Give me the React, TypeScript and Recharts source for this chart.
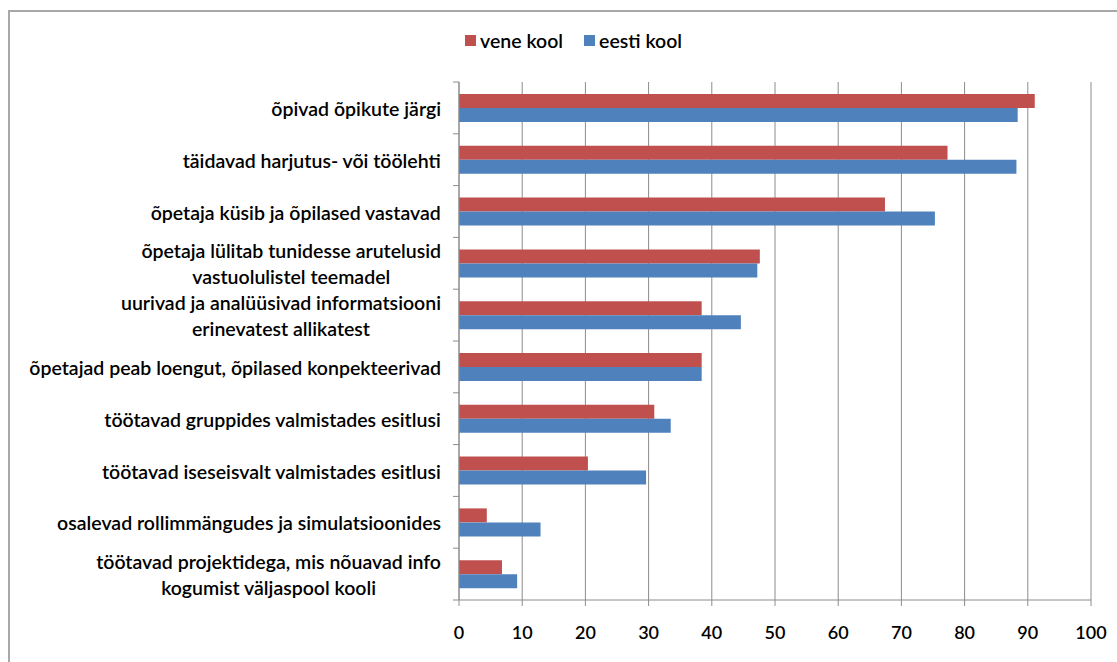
import React from "react"
import { BarChart, Bar, XAxis, YAxis, CartesianGrid } from "recharts"

const categories = [
  ["õpivad õpikute järgi"],
  ["täidavad harjutus- või töölehti"],
  ["õpetaja küsib ja õpilased vastavad"],
  ["õpetaja lülitab tunidesse arutelusid", "vastuolulistel teemadel"],
  ["uurivad ja analüüsivad informatsiooni", "erinevatest allikatest"],
  ["õpetajad peab loengut, õpilased konpekteerivad"],
  ["töötavad gruppides valmistades esitlusi"],
  ["töötavad iseseisvalt valmistades esitlusi"],
  ["osalevad rollimmängudes ja simulatsioonides"],
  ["töötavad projektidega, mis nõuavad info", "kogumist väljaspool kooli"],
]
const veneKool = [91.1, 77.3, 67.4, 47.6, 38.4, 38.4, 30.9, 20.4, 4.4, 6.8]
const eestiKool = [88.4, 88.2, 75.3, 47.2, 44.6, 38.4, 33.5, 29.6, 12.9, 9.2]
const xTicks = [0, 10, 20, 30, 40, 50, 60, 70, 80, 90, 100]

const SERIES = [
  { key: "vene", name: "vene kool", color: "#C0504D" },
  { key: "eesti", name: "eesti kool", color: "#4F81BD" },
]

const data = categories.map((lines, i) => ({
  name: lines.join("\n"),
  vene: veneKool[i],
  eesti: eestiKool[i],
}))

const FONT = "Lato, 'Open Sans', sans-serif"
const WEIGHT = 600
const W = 1117
const H = 662
const TOP = 82
const BOTTOM = 600
const AXIS_X = 459
const GRID = "#8c8c8c"
const BAND = (BOTTOM - TOP) / categories.length

let ctx: CanvasRenderingContext2D | null = null
function measure(text: string, size: number) {
  if (!ctx) ctx = document.createElement("canvas").getContext("2d")
  if (!ctx) return text.length * size * 0.5
  ctx.font = `${WEIGHT} ${size}px ${FONT}`
  return ctx.measureText(text).width
}

function CategoryTick(props: any) {
  const { y, payload, index } = props
  const lines: string[] = String(payload.value).split("\n")
  const size = 19.5
  const lh = 26
  const right = AXIS_X - 18
  const maxW = Math.max(...lines.map((l) => measure(l, size)))
  const cx = right - maxW / 2
  const y0 = y - ((lines.length - 1) * lh) / 2
  return (
    <g>
      <line x1={AXIS_X - 6} x2={AXIS_X} y1={y - BAND / 2} y2={y - BAND / 2} stroke={GRID} />
      {index === categories.length - 1 && (
        <line x1={AXIS_X - 6} x2={AXIS_X} y1={y + BAND / 2} y2={y + BAND / 2} stroke={GRID} />
      )}
      <text
        x={cx}
        y={y0}
        textAnchor="middle"
        dominantBaseline="central"
        fontFamily={FONT}
        fontSize={size}
        fontWeight={WEIGHT}
        fill="#000"
      >
        {lines.map((l, i) => (
          <tspan key={i} x={cx} y={y0 + i * lh}>
            {l}
          </tspan>
        ))}
      </text>
    </g>
  )
}

export default function App() {
  return (
    <div style={{ position: "relative", width: W, height: H, overflow: "hidden", background: "#fff" }}>
      <style>{"body{margin:0;overflow:hidden;background:#fff}"}</style>
      <div
        style={{
          position: "absolute",
          left: 8,
          top: 10,
          width: 1200,
          height: 800,
          border: "2px solid #a8a8a8",
        }}
      />
      <div
        style={{
          position: "absolute",
          left: 465,
          top: 29,
          display: "flex",
          alignItems: "center",
          fontFamily: FONT,
          fontSize: 19.5,
          fontWeight: WEIGHT,
          color: "#000",
        }}
      >
        {SERIES.map((s, i) => (
          <div key={s.key} style={{ display: "flex", alignItems: "center", marginRight: i === 0 ? 21 : 0 }}>
            <span style={{ width: 11, height: 11, background: s.color, display: "inline-block", marginRight: 4 }} />
            <span>{s.name}</span>
          </div>
        ))}
      </div>
      <div style={{ position: "absolute", left: 0, top: 0 }}>
        <BarChart
          width={W}
          height={H}
          data={data}
          layout="vertical"
          margin={{ top: TOP, right: W - 1091, bottom: 12, left: 0 }}
          barGap={0}
        >
          <CartesianGrid horizontal={false} stroke={GRID} />
          <XAxis
            type="number"
            domain={[0, 100]}
            ticks={xTicks}
            interval={0}
            height={H - BOTTOM - 12}
            stroke={GRID}
            tickSize={6}
            tickMargin={20}
            tick={{ fill: "#000", fontSize: 18, fontFamily: FONT, fontWeight: WEIGHT }}
          />
          <YAxis
            type="category"
            dataKey="name"
            width={AXIS_X}
            stroke={GRID}
            tickLine={false}
            interval={0}
            tick={<CategoryTick />}
          />
          {SERIES.map((s) => (
            <Bar key={s.key} dataKey={s.key} name={s.name} fill={s.color} barSize={14} isAnimationActive={false} />
          ))}
        </BarChart>
      </div>
    </div>
  )
}
